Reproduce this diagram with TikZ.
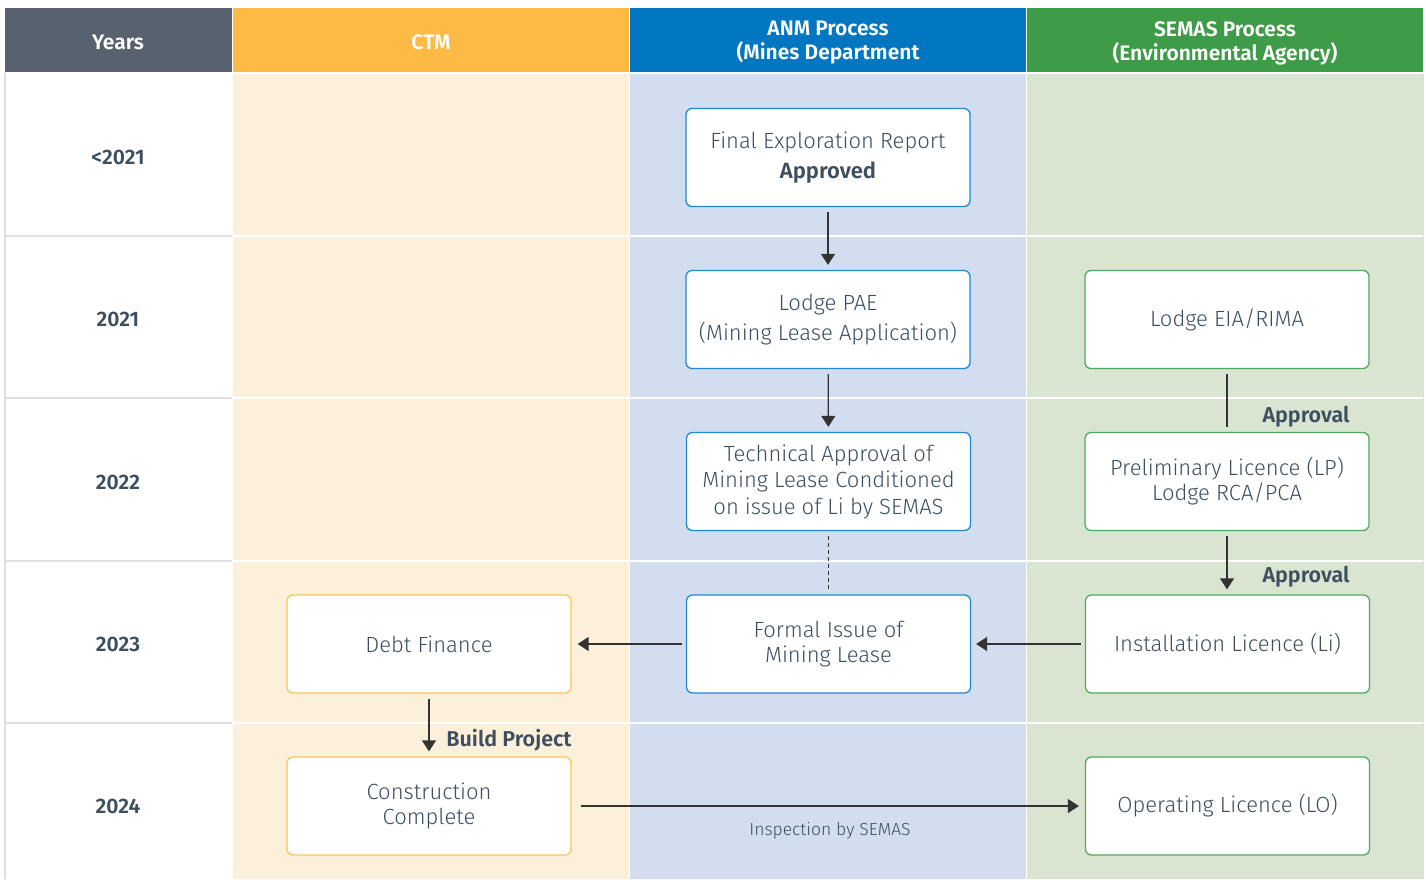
\documentclass[tikz,border=0pt]{standalone}
\usepackage{fontspec}
\setmainfont{Fira Sans}
\newfontfamily\lightfont{Fira Sans Light}
\newfontfamily\boldfont{Fira Sans SemiBold}
\usetikzlibrary{arrows.meta}
\definecolor{txt}{HTML}{3D4F5F}
\definecolor{hyears}{HTML}{58626E}
\definecolor{hctm}{HTML}{FDBA45}
\definecolor{hanm}{HTML}{0077C0}
\definecolor{hsemas}{HTML}{3E9B47}
\definecolor{bctm}{HTML}{FDF0DA}
\definecolor{banm}{HTML}{D2DEEF}
\definecolor{bsemas}{HTML}{D9E4D1}
\definecolor{ectm}{HTML}{FCC45A}
\definecolor{eanm}{HTML}{1E88D0}
\definecolor{esemas}{HTML}{4FAA5A}
\definecolor{gridgray}{HTML}{DDDFE2}
\definecolor{arr}{HTML}{333333}
\tikzset{
  box/.style={rectangle, rounded corners=6pt, fill=white, line width=1.3pt,
    minimum width=284pt, minimum height=98pt, align=center, text=txt,
    font=\lightfont\fontsize{22}{25}\selectfont},
  anmbox/.style={box, draw=eanm},
  semasbox/.style={box, draw=esemas},
  ctmbox/.style={box, draw=ectm},
  head/.style={text=white, align=center, font=\boldfont\fontsize{21}{24}\selectfont},
  yearlbl/.style={text=txt, font=\boldfont\fontsize{21}{24}\selectfont},
  lbl/.style={text=txt, font=\boldfont\fontsize{21.5}{24}\selectfont},
  conn/.style={draw=arr, line width=1.3pt},
  arrow/.style={conn, -{Triangle[width=14pt,length=11pt]}},
}
\begin{document}
\begin{tikzpicture}[x=1pt,y=-1pt]
\useasboundingbox (0,0) rectangle (1426,879);
% header
\fill[hyears] (5,8) rectangle (232,72);
\fill[hctm] (233,8) rectangle (628.5,72);
\fill[hanm] (630,8) rectangle (1025.5,72);
\fill[hsemas] (1027,8) rectangle (1423,72);
% body fills
\fill[bctm] (233,74) rectangle (628.5,879);
\fill[banm] (630,74) rectangle (1025.5,879);
\fill[bsemas] (1027,74) rectangle (1423,879);
% grid
\draw[gridgray, line width=2pt] (5,73) -- (5,879);
\draw[gridgray, line width=1pt] (1423.5,73) -- (1423.5,879);
\foreach \yy in {236,398,561,723} {
  \draw[gridgray, line width=1.5pt] (5,\yy) -- (232,\yy);
  \draw[white, line width=1.5pt] (233,\yy) -- (1423,\yy);
}
% header text
\node[head] (hY) at (118,42) {Years};
\node[head] (hC) at (431,42) {CTM};
\node[head] (hA) at (828,43) {ANM Process\\(Mines Department};
\node[head] (hS) at (1225,43) {SEMAS Process\\(Environmental Agency)};
% years
\node[yearlbl] (y0) at (118,157) {<2021};
\node[yearlbl] (y1) at (118,319) {2021};
\node[yearlbl] (y2) at (118,482) {2022};
\node[yearlbl] (y3) at (118,644) {2023};
\node[yearlbl] (y4) at (118,806) {2024};
% boxes
\node[anmbox, font=\lightfont\fontsize{22}{30}\selectfont] (fer) at (828,157.5) {Final Exploration Report\\{\boldfont Approved}};
\node[anmbox, font=\lightfont\fontsize{22}{30}\selectfont] (pae) at (828,319.5) {Lodge PAE\\(Mining Lease Application)};
\node[anmbox, font=\lightfont\fontsize{22}{26.5}\selectfont] (tech) at (828.5,481.5) {Technical Approval of\\Mining Lease Conditioned\\on issue of Li by SEMAS};
\node[anmbox] (formal) at (828.5,644) {Formal Issue of\\Mining Lease};
\node[semasbox] (eia) at (1227,319.5) {Lodge EIA/RIMA};
\node[semasbox] (prelim) at (1227,481.5) {Preliminary Licence (LP)\\Lodge RCA/PCA};
\node[semasbox] (inst) at (1227.5,644) {Installation Licence (Li)};
\node[semasbox] (oper) at (1227.5,806) {Operating Licence (LO)};
\node[ctmbox] (debt) at (429,644) {Debt Finance};
\node[ctmbox] (cons) at (429,806) {Construction\\Complete};
% connectors
\draw[arrow, shorten <=5pt, shorten >=5pt] (fer) -- (pae);
\draw[arrow, shorten <=5pt, shorten >=5pt] (pae) -- (tech);
\draw[conn, dashed, dash pattern=on 4pt off 3pt, shorten <=5pt, shorten >=5pt] (tech) -- (formal);
\draw[conn, shorten <=5pt, shorten >=5pt] (eia) -- (prelim);
\draw[arrow, shorten <=5pt, shorten >=5pt] (prelim) -- (inst.north -| prelim);
\draw[arrow, shorten <=4pt, shorten >=5pt] (inst) -- (formal);
\draw[arrow, shorten <=4pt, shorten >=6pt] (formal) -- (debt);
\draw[arrow, shorten <=5pt, shorten >=5pt] (debt) -- (cons);
\draw[arrow, shorten <=9pt, shorten >=6pt] (cons) -- (oper);
% labels
\node[lbl] (ap1) at (1306,417) {Approval};
\node[lbl] (ap2) at (1306,577) {Approval};
\node[lbl] (bp) at (509,740) {Build Project};
\node[text=txt, font=\lightfont\fontsize{17.5}{20}\selectfont] (insp) at (830,831) {Inspection by SEMAS};
\end{tikzpicture}
\end{document}
